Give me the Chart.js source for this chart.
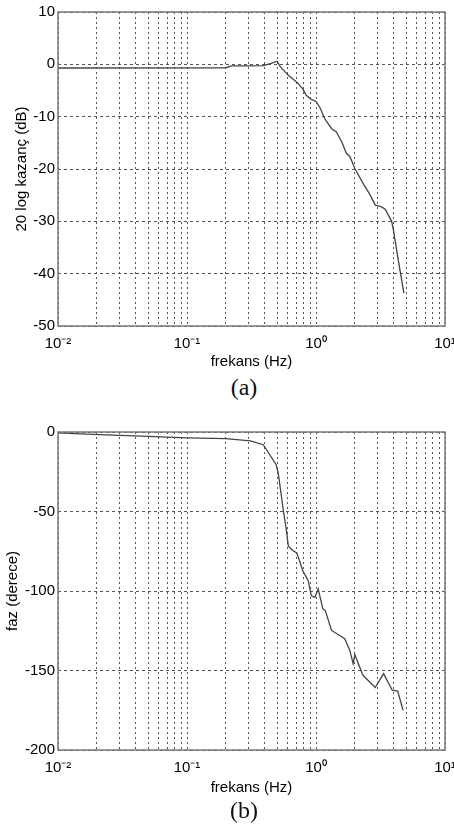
<!DOCTYPE html>
<html>
<head>
<meta charset="utf-8">
<script src="https://cdn.jsdelivr.net/npm/chart.js@4.4.1/dist/chart.umd.min.js"></script>
<style>
  body { margin: 0; background: #fff; }
  .kutu { position: absolute; left: 0; }
  .etiket { position: absolute; width: 454px; left: 0; text-align: center;
            font-family: "Liberation Serif", "Times New Roman", serif; font-size: 24px; color: #111; }
</style>
</head>
<body>
<div class="kutu" style="top:0px"><canvas id="grafikKazanc" width="454" height="372"></canvas></div>
<div class="etiket" style="left:17px; top:374px">(a)</div>
<div class="kutu" style="top:420px"><canvas id="grafikFaz" width="454" height="378"></canvas></div>
<div class="etiket" style="left:17px; top:797px">(b)</div>
<script>
// genlik egrisi (a)
const frekansKazanc = [0.01, 0.2, 0.22, 0.3, 0.39, 0.45, 0.5, 0.53, 0.61, 0.71, 0.79, 0.84, 0.92, 1.0, 1.07, 1.17,
  1.32, 1.44, 1.58, 1.72, 1.83, 2.0, 2.31, 2.62, 2.88, 3.2, 3.44, 3.86, 4.0, 4.35, 4.8]
const kazancDb = [-0.7, -0.65, -0.3, -0.3, -0.25, 0.2, 0.6, -0.5, -2.1, -3.4, -4.7, -5.9, -6.7, -7.1, -8.2, -10.4,
  -12.3, -12.9, -14.8, -17.0, -17.6, -19.9, -22.7, -24.9, -26.9, -27.2, -27.7, -30.0, -31.9, -37.5, -43.7]

// faz egrisi (b)
const frekansFaz = [0.01, 0.015, 0.021, 0.05, 0.1, 0.2, 0.31, 0.39, 0.49, 0.51, 0.56, 0.59, 0.61, 0.66, 0.71, 0.79,
  0.87, 0.92, 0.98, 1.04, 1.13, 1.18, 1.32, 1.67, 1.83, 1.94, 2.0, 2.31, 2.88, 3.34, 3.9, 4.3, 4.73]
const fazDerece = [-0.6, -1.2, -1.7, -2.8, -3.7, -4.2, -5.6, -8, -20.4, -26, -50, -62, -71.6, -74.5, -76, -87.3,
  -93.5, -103, -104, -98.7, -111.2, -112.3, -124.8, -130, -137.4, -145.7, -140, -153, -160.7, -152, -162.4, -163, -175]

const onlukDegerler = [0.01, 0.1, 1, 10]
const onlukEtiketler = ['10⁻²', '10⁻¹', '10⁰', '10¹']

const yaziTipi = 'Arial, "Liberation Sans", sans-serif'

// her onluk icin 1..9 katlari: izgara cizgileri
function izgaraTikleri () {
  let tikler = []
  for (let i = 0; i < onlukDegerler.length - 1; i++) {
    for (let k = 1; k <= 9; k++) tikler.push(k * onlukDegerler[i])
  }
  tikler.push(onlukDegerler[onlukDegerler.length - 1])
  return tikler
}

const cerceve = {
  id: 'cerceve',
  afterDatasetsDraw (chart) {
    const { ctx, chartArea: a } = chart
    ctx.save()
    ctx.strokeStyle = '#7a7a7a'
    ctx.lineWidth = 1.5
    ctx.strokeRect(a.left, a.top, a.right - a.left, a.bottom - a.top)
    ctx.restore()
  }
}

function grafikYap (id, xler, yler, yMin, yMax, adim, yBaslik, ustBosluk, baslikBosluk) {
  return new Chart(document.getElementById(id), {
    type: 'line',
    data: {
      datasets: [{
        data: xler.map((x, i) => ({ x: x, y: yler[i] })),
        borderColor: '#444',
        borderWidth: 1.3,
        pointRadius: 0,
        tension: 0
      }]
    },
    options: {
      responsive: false,
      animation: false,
      layout: { padding: { top: ustBosluk, right: 9, left: 0, bottom: 0 } },
      plugins: { legend: { display: false }, tooltip: { enabled: false } },
      scales: {
        x: {
          type: 'logarithmic',
          min: 0.01,
          max: 10,
          afterBuildTicks: (eksen) => { eksen.ticks = izgaraTikleri().map(v => ({ value: v })) },
          afterFit: (eksen) => { eksen.height = eksen.chart.height - (id === 'grafikKazanc' ? 326 : 330); eksen.paddingLeft = 0; eksen.paddingRight = 0 },
          grid: { color: '#555', lineWidth: 1, drawTicks: false },
          border: { display: false, dash: [2, 3] },
          ticks: {
            autoSkip: false,
            maxRotation: 0,
            padding: 9,
            color: '#000',
            font: { family: yaziTipi, size: 15 },
            callback: (deger) => {
              const i = onlukDegerler.findIndex(d => Math.abs(d - deger) < d * 1e-6)
              return i >= 0 ? onlukEtiketler[i] : ''
            }
          },
          title: { display: true, text: 'frekans (Hz)', color: '#000', font: { family: yaziTipi, size: 15 }, padding: { top: 0, bottom: 1 } }
        },
        y: {
          min: yMin,
          max: yMax,
          afterFit: (eksen) => { eksen.width = 58 },
          grid: { color: '#555', lineWidth: 1, drawTicks: false },
          border: { display: false, dash: [3, 3] },
          ticks: { stepSize: adim, padding: 3, color: '#000', font: { family: yaziTipi, size: 15 } },
          title: { display: true, text: yBaslik, color: '#000', font: { family: yaziTipi, size: 15 }, padding: { top: baslikBosluk, bottom: 0 } }
        }
      }
    },
    plugins: [cerceve]
  })
}

const grafikKazanc = grafikYap('grafikKazanc', frekansKazanc, kazancDb, -50, 10, 10, '20 log kazanç (dB)', 9, 13)
const grafikFaz = grafikYap('grafikFaz', frekansFaz, fazDerece, -200, 0, 50, 'faz (derece)', 11, 4)
</script>
</body>
</html>
